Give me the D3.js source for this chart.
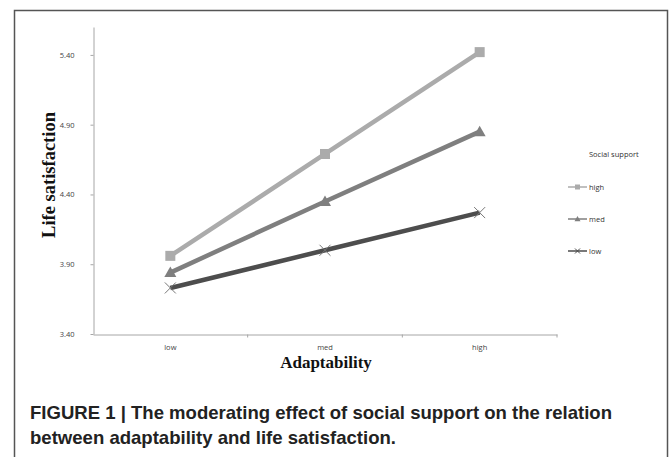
<!DOCTYPE html>
<html lang="en">
<head>
<meta charset="utf-8">
<title>Adaptability and life satisfaction</title>
<script src="https://d3js.org/d3.v7.min.js"></script>
<style>
  body { margin: 0; background: #fff; }
</style>
</head>
<body>
<div id="chart"></div>
<script>
// data
var categories = ["low", "med", "high"];
var seriesNames = ["high", "med", "low"];
var highValues = [3.96, 4.69, 5.42];
var medValues = [3.84, 4.35, 4.85];
var lowValues = [3.73, 4.00, 4.27];
var yTicks = [3.40, 3.90, 4.40, 4.90, 5.40];

var series = [
  { name: seriesNames[0], values: highValues, color: "#ababab", shape: "square" },
  { name: seriesNames[1], values: medValues, color: "#7f7f7f", shape: "triangle" },
  { name: seriesNames[2], values: lowValues, color: "#4d4d4d", shape: "cross" }
];

var W = 669, H = 457;
var svg = d3.select("#chart").append("svg")
  .attr("width", W).attr("height", H);

// outer frame
svg.append("rect")
  .attr("x", 14.5).attr("y", 10.5)
  .attr("width", 653).attr("height", 460)
  .attr("fill", "none").attr("stroke", "#555").attr("stroke-width", 1.5);

var x = d3.scaleBand().domain(categories).range([93, 557]);
var y = d3.scaleLinear().domain([3.4, 5.6]).range([334, 27]);

// y axis
var yAxis = svg.append("g")
  .attr("transform", "translate(93.5,0)")
  .call(d3.axisLeft(y).tickValues(yTicks).tickSize(3).tickPadding(16)
    .tickFormat(d3.format(".2f")).tickSizeOuter(0));
yAxis.select(".domain").attr("stroke", "#a6a6a6");
yAxis.selectAll(".tick line").attr("stroke", "#a6a6a6");
yAxis.selectAll(".tick text")
  .attr("font-family", "'Open Sans', sans-serif").attr("font-size", 7.5).attr("fill", "#444");

// x axis with ticks between categories
var xAxis = svg.append("g")
  .attr("transform", "translate(0,334.5)")
  .call(d3.axisBottom(x).tickSize(0).tickPadding(10).tickSizeOuter(0));
xAxis.select(".domain").attr("stroke", "#a6a6a6");
xAxis.selectAll(".tick text")
  .attr("font-family", "'Open Sans', sans-serif").attr("font-size", 7.5).attr("fill", "#444");
xAxis.selectAll(".sep").data(categories.slice(1).concat(["end"]))
  .enter().append("line")
  .attr("class", "sep")
  .attr("x1", function(d, i) { return x.range()[0] + x.bandwidth() * (i + 1); })
  .attr("x2", function(d, i) { return x.range()[0] + x.bandwidth() * (i + 1); })
  .attr("y1", 0).attr("y2", 3)
  .attr("stroke", "#a6a6a6");

// axis titles
svg.append("text")
  .attr("x", 326).attr("y", 368)
  .attr("text-anchor", "middle")
  .attr("font-family", "'Liberation Serif', serif").attr("font-weight", "bold")
  .attr("font-size", 17).attr("fill", "#111")
  .text("Adaptability");

svg.append("text")
  .attr("transform", "translate(55,175) rotate(-90)")
  .attr("text-anchor", "middle")
  .attr("font-family", "'Liberation Serif', serif").attr("font-weight", "bold")
  .attr("font-size", 18.5).attr("fill", "#111")
  .text("Life satisfaction");

function marker(sel, shape, color, s) {
  if (shape === "square") {
    sel.append("rect").attr("x", -s / 2).attr("y", -s / 2)
      .attr("width", s).attr("height", s).attr("fill", color);
  } else if (shape === "triangle") {
    sel.append("path")
      .attr("d", "M0," + (-s * 0.6) + "L" + (s * 0.6) + "," + (s * 0.45) + "L" + (-s * 0.6) + "," + (s * 0.45) + "Z")
      .attr("fill", color);
  } else {
    var h = s / 2;
    sel.append("path")
      .attr("d", "M" + (-h) + "," + (-h) + "L" + h + "," + h + "M" + (-h) + "," + h + "L" + h + "," + (-h))
      .attr("stroke", color).attr("stroke-width", 1).attr("fill", "none");
  }
}

var line = d3.line()
  .x(function(d, i) { return x(categories[i]) + x.bandwidth() / 2; })
  .y(function(d) { return y(d); });

series.forEach(function(s) {
  svg.append("path")
    .datum(s.values)
    .attr("d", line)
    .attr("fill", "none")
    .attr("stroke", s.color)
    .attr("stroke-width", 4.5);
  s.values.forEach(function(v, i) {
    var g = svg.append("g")
      .attr("transform", "translate(" + (x(categories[i]) + x.bandwidth() / 2) + "," + y(v) + ")");
    marker(g, s.shape, s.shape === "cross" ? "#777" : s.color, s.shape === "cross" ? 11 : 10);
  });
});

// legend
svg.append("text")
  .attr("x", 589).attr("y", 157)
  .attr("font-family", "'Open Sans', sans-serif").attr("font-size", 7.5).attr("fill", "#333")
  .text("Social support");

var legend = svg.selectAll(".leg").data(series).enter().append("g")
  .attr("class", "leg")
  .attr("transform", function(d, i) { return "translate(568," + (187 + i * 32) + ")"; });
legend.append("line")
  .attr("x1", 0).attr("x2", 19).attr("y1", 0).attr("y2", 0)
  .attr("stroke", function(d) { return d.color; }).attr("stroke-width", 1.5);
legend.each(function(d) {
  var g = d3.select(this).append("g").attr("transform", "translate(9.5,0)");
  marker(g, d.shape, d.color, 5);
});
legend.append("text")
  .attr("x", 21).attr("y", 3)
  .attr("font-family", "'Open Sans', sans-serif").attr("font-size", 7.5).attr("fill", "#333")
  .text(function(d) { return d.name; });

// caption
svg.append("text")
  .attr("x", 30).attr("y", 419)
  .attr("font-family", "'Liberation Sans', Arial, sans-serif").attr("font-weight", "bold")
  .attr("font-size", 18.5).attr("fill", "#222")
  .attr("textLength", 582).attr("lengthAdjust", "spacingAndGlyphs")
  .text("FIGURE 1 | The moderating effect of social support on the relation");
svg.append("text")
  .attr("x", 30).attr("y", 444)
  .attr("font-family", "'Liberation Sans', Arial, sans-serif").attr("font-weight", "bold")
  .attr("font-size", 18.5).attr("fill", "#222")
  .attr("textLength", 366).attr("lengthAdjust", "spacingAndGlyphs")
  .text("between adaptability and life satisfaction.");
</script>
</body>
</html>
